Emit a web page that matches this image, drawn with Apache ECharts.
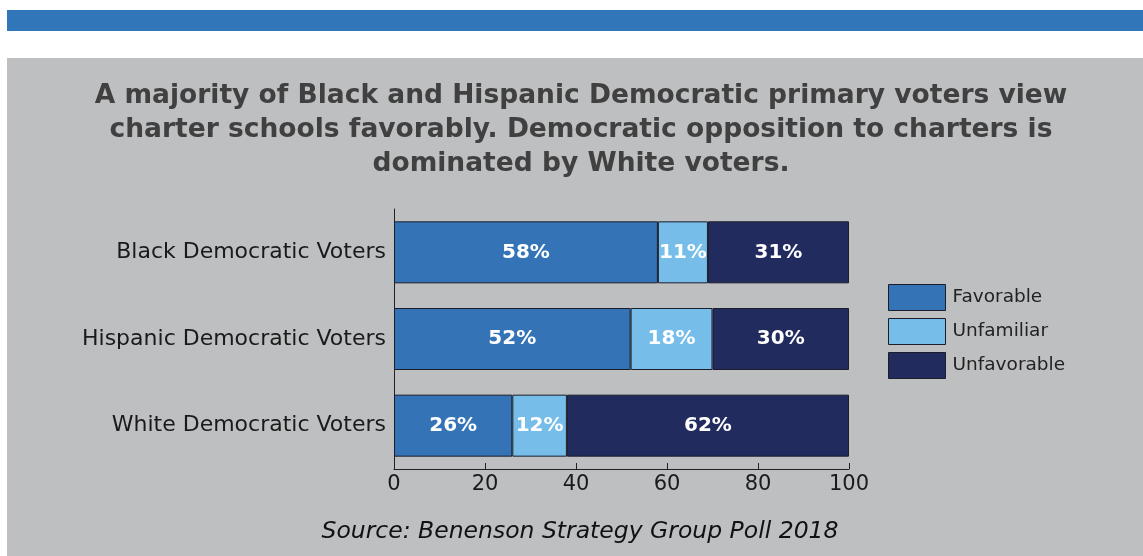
<!DOCTYPE html>
<html>
<head>
<meta charset="utf-8">
<script src="https://cdn.jsdelivr.net/npm/echarts@6/dist/echarts.min.js"></script>
<style>
html,body{margin:0;padding:0;background:#fff;}
#c{width:1143px;height:556px;}
</style>
</head>
<body>
<div id="c"></div>
<script>
const categories = ['Black Democratic Voters', 'Hispanic Democratic Voters', 'White Democratic Voters'];
const favorable = [58, 52, 26];
const unfamiliar = [11, 18, 12];
const unfavorable = [31, 30, 62];
const xTicks = [0, 20, 40, 60, 80, 100];
const titleLines = [
  'A majority of Black and Hispanic Democratic primary voters view',
  'charter schools favorably. Democratic opposition to charters is',
  'dominated by White voters.'
];
const sourceText = 'Source: Benenson Strategy Group Poll 2018';

const chart = echarts.init(document.getElementById('c'));
const border = '#1b1d2b';
const lbl = {show: true, position: 'inside', color: '#fff', fontWeight: 'bold', fontSize: 20, fontFamily: 'DejaVu Sans', formatter: p => p.value + '%'};
function mk(name, data, color) {
  return {name, type: 'bar', stack: 'total', data, barWidth: 62,
    itemStyle: {color, borderColor: border, borderWidth: 1}, label: lbl};
}
chart.setOption({
  backgroundColor: '#fff',
  animation: false,
  graphic: [
    {type: 'rect', shape: {x: 7, y: 10, width: 1136, height: 21}, style: {fill: '#3176b8'}, z: -10},
    {type: 'rect', shape: {x: 7, y: 58, width: 1136, height: 498}, style: {fill: '#bebfc1'}, z: -10},
    {type: 'text', x: 581, y: 79, style: {
      text: titleLines.join('\n'), fill: '#404041', font: 'bold 26.5px "DejaVu Sans"', lineHeight: 34, align: 'center', verticalAlign: 'top'}},
    {type: 'text', x: 580, y: 532, style: {
      text: sourceText, fill: '#111', font: 'italic 23.5px "DejaVu Sans"', align: 'center', verticalAlign: 'middle'}}
  ],
  legend: {
    orient: 'vertical', left: 888, top: 284, padding: 0, itemWidth: 57, itemHeight: 26, itemGap: 7,
    icon: 'rect',
    textStyle: {fontSize: 18.5, lineHeight: 26, color: '#222', fontFamily: 'DejaVu Sans', padding: [0, 0, 0, 2]},
    itemStyle: {borderColor: border, borderWidth: 1},
    data: ['Favorable', 'Unfamiliar', 'Unfavorable']
  },
  grid: {left: 394, right: 294, top: 209, bottom: 87},
  xAxis: {
    type: 'value', min: 0, max: 100, interval: 20,
    axisLine: {show: true, lineStyle: {color: '#222', width: 1}},
    axisTick: {show: true, inside: true, length: 6, lineStyle: {color: '#222'}},
    axisLabel: {fontSize: 21, color: '#1a1a1a', fontFamily: 'DejaVu Sans', margin: 5,
      formatter: v => xTicks.includes(v) ? String(v) : ''},
    splitLine: {show: false}
  },
  yAxis: {
    type: 'category', data: categories, inverse: true,
    axisLine: {show: true, lineStyle: {color: '#222', width: 1}},
    axisTick: {show: false},
    axisLabel: {fontSize: 22, color: '#1a1a1a', fontFamily: 'DejaVu Sans', margin: 8, padding: [2, 0, 0, 0]}
  },
  series: [
    mk('Favorable', favorable, '#3474b6'),
    mk('Unfamiliar', unfamiliar, '#76bde9'),
    mk('Unfavorable', unfavorable, '#212b5e')
  ]
});
</script>
</body>
</html>
